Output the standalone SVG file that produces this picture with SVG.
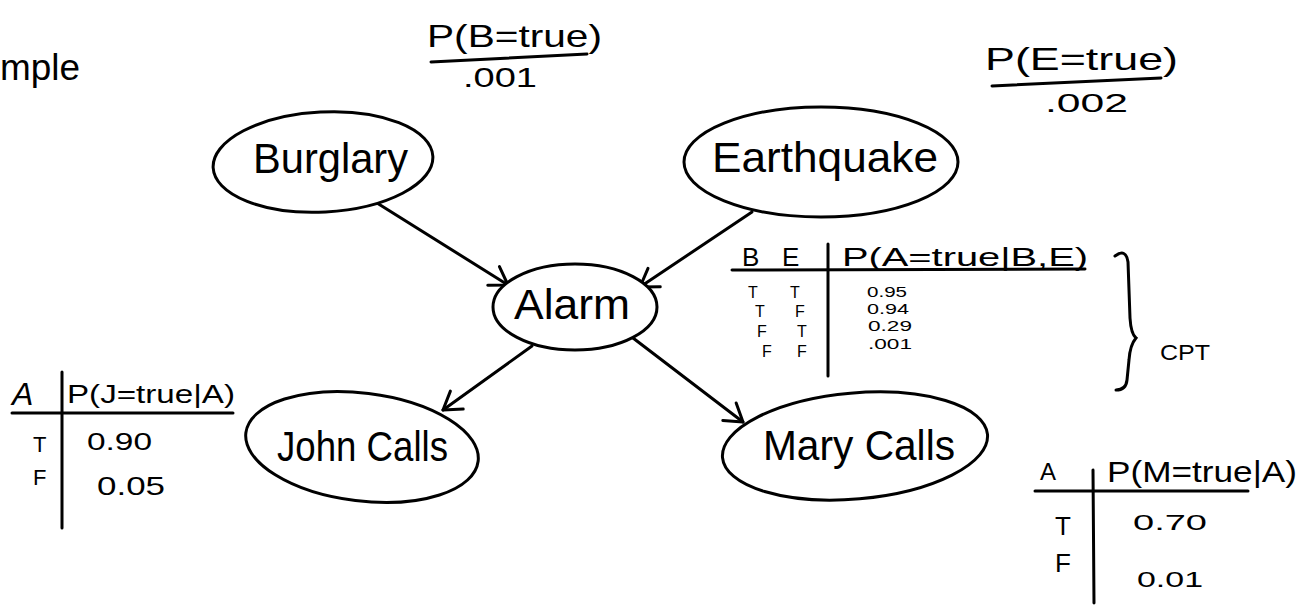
<svg xmlns="http://www.w3.org/2000/svg" width="1309" height="605" viewBox="0 0 1309 605">
<defs>
<style>
text { font-family: "Liberation Sans", Arial, sans-serif; fill: #000; }
.node { fill: #fff; stroke: #000; stroke-width: 3; }
.edge { fill: none; stroke: #000; stroke-width: 3; stroke-linecap: round; }
.rule { fill: none; stroke: #000; stroke-width: 3; stroke-linecap: round; }
.lbl { font-size: 42px; }
.tbl { font-size: 26px; }
.row { font-size: 16px; }
.val { font-size: 15px; }
</style>
<marker id="arr" markerUnits="userSpaceOnUse" markerWidth="40" markerHeight="40" viewBox="-25 -20 30 40" refX="0" refY="0" orient="auto">
<path d="M-17,-11 L0,0 L-17,11" fill="none" stroke="#000" stroke-width="3" stroke-linecap="round" stroke-linejoin="round"/>
</marker>
</defs>
<rect width="1309" height="605" fill="#fff"/>

<text x="0" y="80" font-size="36" textLength="80" lengthAdjust="spacingAndGlyphs">mple</text>

<g id="priorB">
<text x="427" y="47" font-size="32" textLength="175" lengthAdjust="spacingAndGlyphs">P(B=true)</text>
<line class="rule" x1="431" y1="62" x2="587" y2="54"/>
<text x="463" y="87" font-size="28" textLength="74" lengthAdjust="spacingAndGlyphs">.001</text>
</g>

<g id="priorE">
<text x="985" y="70" font-size="32" textLength="193" lengthAdjust="spacingAndGlyphs">P(E=true)</text>
<line class="rule" x1="992" y1="86" x2="1161" y2="78"/>
<text x="1045" y="112" font-size="26" textLength="83" lengthAdjust="spacingAndGlyphs">.002</text>
</g>

<g id="connectors">
<line class="edge" x1="377" y1="203" x2="508" y2="285" marker-end="url(#arr)"/>
<line class="edge" x1="752" y1="212" x2="640" y2="287" marker-end="url(#arr)"/>
<line class="edge" x1="532" y1="346" x2="443" y2="410" marker-end="url(#arr)"/>
<line class="edge" x1="633" y1="338" x2="743" y2="422" marker-end="url(#arr)"/>
</g>

<g id="burglary">
<ellipse class="node" cx="323" cy="162" rx="110" ry="50" transform="rotate(-3 323 162)"/>
<text class="lbl" x="253" y="173" textLength="155" lengthAdjust="spacingAndGlyphs">Burglary</text>
</g>

<g id="earthquake">
<ellipse class="node" cx="821" cy="162" rx="137" ry="55"/>
<text class="lbl" x="712" y="172" textLength="226" lengthAdjust="spacingAndGlyphs">Earthquake</text>
</g>

<g id="alarm">
<ellipse class="node" cx="575" cy="307" rx="82" ry="43"/>
<text class="lbl" x="514" y="319" textLength="116" lengthAdjust="spacingAndGlyphs">Alarm</text>
</g>

<g id="john">
<ellipse class="node" cx="362" cy="447" rx="117" ry="54" transform="rotate(7 362 447)"/>
<text class="lbl" x="277" y="461" font-size="38" textLength="171" lengthAdjust="spacingAndGlyphs">John Calls</text>
</g>

<g id="mary">
<ellipse class="node" cx="855" cy="446" rx="133" ry="53" transform="rotate(-5 855 446)"/>
<text class="lbl" x="763" y="460" textLength="192" lengthAdjust="spacingAndGlyphs">Mary Calls</text>
</g>

<g id="cptAlarm">
<text class="tbl" x="742" y="266">B</text>
<text class="tbl" x="782" y="266">E</text>
<text class="tbl" x="842" y="266" textLength="246" lengthAdjust="spacingAndGlyphs">P(A=true|B,E)</text>
<line class="rule" x1="732" y1="270" x2="1085" y2="269"/>
<line class="rule" x1="828" y1="244" x2="828" y2="376"/>
<text class="row" x="748" y="298">T</text><text class="row" x="790" y="298">T</text>
<text class="row" x="755" y="317">T</text><text class="row" x="795" y="317">F</text>
<text class="row" x="757" y="337">F</text><text class="row" x="797" y="337">T</text>
<text class="row" x="762" y="357">F</text><text class="row" x="797" y="357">F</text>
<text class="val" x="867" y="297" textLength="40" lengthAdjust="spacingAndGlyphs">0.95</text>
<text class="val" x="867" y="314" textLength="42" lengthAdjust="spacingAndGlyphs">0.94</text>
<text class="val" x="868" y="331" textLength="44" lengthAdjust="spacingAndGlyphs">0.29</text>
<text class="val" x="868" y="349" textLength="44" lengthAdjust="spacingAndGlyphs">.001</text>
<path class="rule" d="M1115,256 Q1126,248 1128,262 L1130,318 Q1131,334 1136,338 Q1130,345 1129,360 L1127,380 Q1126,390 1116,390"/>
<text x="1160" y="360" font-size="22" textLength="50" lengthAdjust="spacingAndGlyphs">CPT</text>
</g>

<g id="cptJohn">
<text x="12" y="405" font-size="32" font-style="italic">A</text>
<line class="rule" x1="62" y1="372" x2="62" y2="528"/>
<text class="tbl" x="67" y="403" textLength="168" lengthAdjust="spacingAndGlyphs">P(J=true|A)</text>
<line class="rule" x1="12" y1="413" x2="233" y2="413"/>
<text x="33" y="452" font-size="22">T</text>
<text x="87" y="450" font-size="24" textLength="65" lengthAdjust="spacingAndGlyphs">0.90</text>
<text x="33" y="485" font-size="22">F</text>
<text x="97" y="495" font-size="26" textLength="68" lengthAdjust="spacingAndGlyphs">0.05</text>
</g>

<g id="cptMary">
<text x="1040" y="480" font-size="24">A</text>
<line class="rule" x1="1093" y1="470" x2="1094" y2="603"/>
<text x="1107" y="482" font-size="30" textLength="190" lengthAdjust="spacingAndGlyphs">P(M=true|A)</text>
<line class="rule" x1="1035" y1="491" x2="1248" y2="491"/>
<text x="1055" y="535" font-size="26">T</text>
<text x="1133" y="530" font-size="22" textLength="74" lengthAdjust="spacingAndGlyphs">0.70</text>
<text x="1055" y="572" font-size="26">F</text>
<text x="1137" y="587" font-size="22" textLength="66" lengthAdjust="spacingAndGlyphs">0.01</text>
</g>
</svg>
